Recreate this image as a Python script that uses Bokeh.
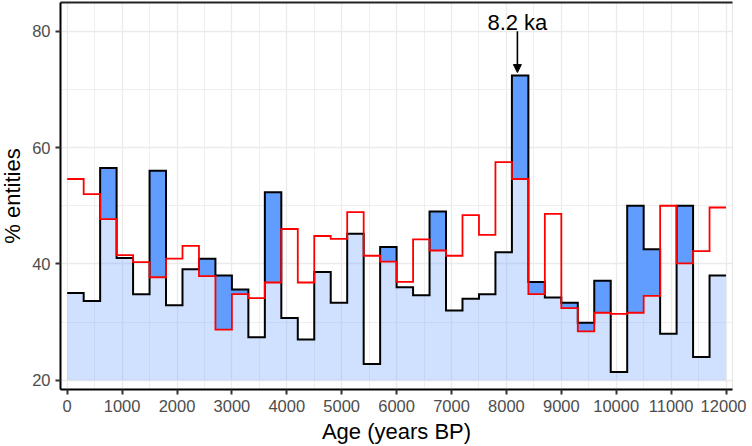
from bokeh.plotting import figure
from bokeh.models import LinearAxis, FixedTicker, Arrow, NormalHead, Label, Range1d
from bokeh.embed import file_html
from bokeh.resources import INLINE

# ---- data (300-year bins, 0-12000 years BP) ----
bin_width = 300
bin_starts = list(range(0, 12000, bin_width))
all_entities = [35.0, 33.6, 56.5, 41.0, 34.8, 56.0, 32.9, 39.1, 40.9, 38.0,
                35.6, 27.4, 52.3, 30.7, 27.0, 38.6, 33.3, 45.2, 22.8, 42.9,
                36.0, 34.6, 49.0, 32.0, 34.0, 34.8, 42.0, 72.4, 36.9, 34.2,
                33.3, 29.9, 37.1, 21.4, 50.0, 42.5, 28.0, 50.0, 24.0, 38.0]
reference = [54.6, 52.0, 47.7, 41.5, 40.3, 37.7, 40.9, 43.1, 37.9, 28.7,
             34.8, 34.1, 36.8, 46.0, 36.8, 44.8, 44.3, 48.9, 41.4, 40.4,
             36.9, 44.2, 42.3, 41.4, 48.4, 45.0, 57.5, 54.6, 34.8, 48.6,
             32.4, 28.4, 31.6, 31.4, 31.6, 34.5, 50.0, 40.1, 42.2, 49.7]
fill_base = 20
x_ticks = list(range(0, 12001, 1000))
x_minor_ticks = list(range(500, 12000, 1000))
y_ticks = [20, 40, 60, 80]
y_minor_ticks = [30, 50, 70]
event_age = 8200
event_label = "8.2 ka"
event_arrow_from = 80.0
event_arrow_to = 72.9
event_label_y = 81.5

# step arrays (edges + repeated last value)
edges = bin_starts + [bin_starts[-1] + bin_width]
blk = all_entities + [all_entities[-1]]
red = reference + [reference[-1]]
low = [min(a, b) for a, b in zip(blk, red)]
high = [max(a, b) for a, b in zip(blk, red)]
base = [fill_base] * len(edges)

FONT = "Liberation Sans"

p = figure(width=752, height=446,
           x_range=Range1d(-122, 12118), y_range=Range1d(18.4, 84.95),
           output_backend="svg", toolbar_location=None,
           min_border_left=66, min_border_right=14, min_border_top=2,
           min_border_bottom=57, margin=(0, -16, -16, -6))
p.outline_line_color = "#E6E6E6"
p.background_fill_color = "white"
p.border_fill_color = "white"

# grids
p.xaxis.ticker = FixedTicker(ticks=x_ticks, minor_ticks=x_minor_ticks)
p.yaxis.ticker = FixedTicker(ticks=y_ticks, minor_ticks=y_minor_ticks)
for g in (p.xgrid, p.ygrid):
    g.grid_line_color = "#EBEBEB"
    g.grid_line_width = 1.3
    g.minor_grid_line_color = "#EFEFEF"
    g.minor_grid_line_width = 1.0

# fills
p.varea_step(x=edges, y1=base, y2=low, step_mode="after",
             fill_color="#619CFF", fill_alpha=0.3)
p.varea_step(x=edges, y1=red, y2=high, step_mode="after",
             fill_color="#619CFF", fill_alpha=1.0)

# lines
p.step(x=edges, y=blk, mode="after", line_color="black", line_width=2,
       line_join="miter")
p.step(x=edges, y=red, mode="after", line_color="#FF0000", line_width=1.8,
       line_join="miter")

# annotation
p.add_layout(Arrow(x_start=event_age, y_start=event_arrow_from,
                   x_end=event_age, y_end=event_arrow_to,
                   line_color="black", line_width=1.6,
                   end=NormalHead(size=8, fill_color="black",
                                  line_color="black", line_width=1)))
p.add_layout(Label(x=event_age, y=event_label_y, text=event_label,
                   text_align="center", text_baseline="alphabetic",
                   text_font=FONT, text_font_size="22px", text_color="black"))

# axes
for ax in (p.xaxis, p.yaxis):
    ax.axis_line_color = "black"
    ax.axis_line_width = 2
    ax.major_tick_line_color = "#333333"
    ax.major_tick_line_width = 2
    ax.major_tick_in = 0
    ax.major_tick_out = 5
    ax.minor_tick_line_color = None
    ax.major_label_text_font = FONT
    ax.major_label_text_font_size = "16.5px"
    ax.major_label_text_color = "#4D4D4D"
    ax.axis_label_text_font = FONT
    ax.axis_label_text_font_size = "22px"
    ax.axis_label_text_font_style = "normal"
    ax.axis_label_text_color = "black"
p.xaxis.axis_label = "Age (years BP)"
p.yaxis.axis_label = "% entities"
p.xaxis.major_label_standoff = 5
p.xaxis.axis_label_standoff = 4
p.yaxis.major_label_standoff = 5
p.yaxis.axis_label_standoff = 4

top = LinearAxis(ticker=FixedTicker(ticks=[]), axis_line_color="#222222",
                 axis_line_width=2, major_tick_out=0, major_tick_in=0,
                 minor_tick_out=0, minor_tick_in=0, major_label_standoff=0)
p.add_layout(top, "above")

open("out.html", "w").write(file_html(p, INLINE))
